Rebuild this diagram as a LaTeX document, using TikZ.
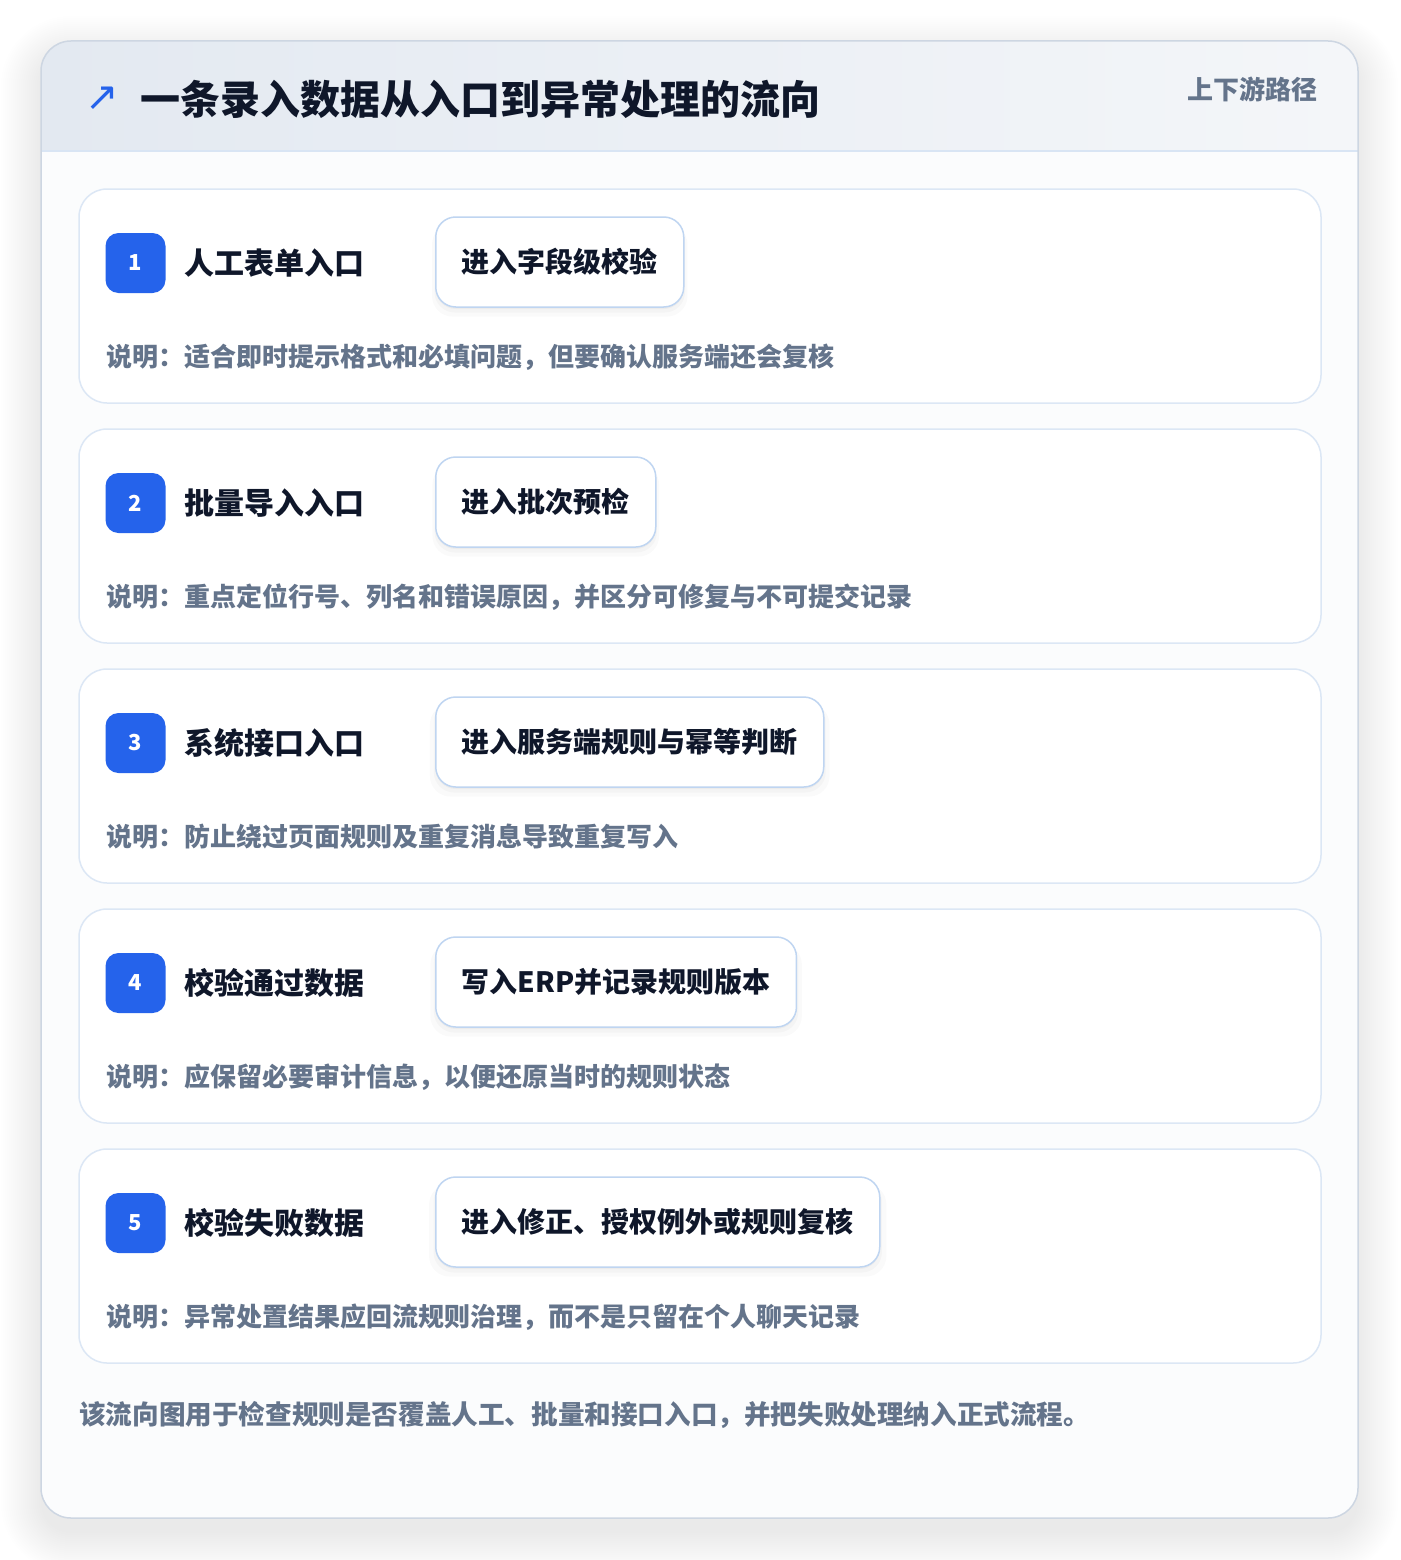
\documentclass[tikz,border=0pt]{standalone}
\usepackage{fontspec}
\setmainfont{Noto Sans CJK SC}
\newfontfamily\symfont{DejaVu Sans}
\usepackage{tikz}
\usetikzlibrary{positioning, shadows}
\definecolor{brandblue}{HTML}{2563EB}
\definecolor{inkdark}{HTML}{0F172A}
\definecolor{inkgrey}{HTML}{64748B}
\definecolor{panelline}{HTML}{CDD6E2}
\definecolor{headline}{HTML}{D9E5F4}
\definecolor{cardline}{HTML}{DCE7F5}
\definecolor{boxline}{HTML}{BFD5F1}
\definecolor{headleft}{HTML}{E3E9F1}
\definecolor{headright}{HTML}{F4F6F9}
\definecolor{panelfill}{HTML}{FBFCFD}

\tikzset{
    card/.style={draw=cardline, line width=1.5pt, fill=white, rounded corners=28pt},
    badge/.style={fill=brandblue, rounded corners=13pt, minimum size=60pt, inner sep=0pt,
        text=white, font=\fontsize{22}{26}\selectfont\bfseries},
    entry/.style={anchor=west, inner sep=0pt, text=inkdark, font=\fontsize{30}{36}\selectfont\bfseries},
    stepbox/.style={anchor=west, draw=boxline, line width=1.5pt, fill=white, rounded corners=20pt,
        minimum height=90pt, inner xsep=26pt, inner ysep=0pt, text=inkdark,
        font=\fontsize{28}{34}\selectfont\bfseries,
        drop shadow={shadow xshift=0pt, shadow yshift=-8pt, shadow scale=1.03, opacity=0.02, fill=black},
        drop shadow={shadow xshift=0pt, shadow yshift=-5pt, shadow scale=1.01, opacity=0.025, fill=black},
        drop shadow={shadow xshift=0pt, shadow yshift=-2pt, opacity=0.03, fill=black}},
    note/.style={anchor=west, inner sep=0pt, text=inkgrey, font=\fontsize{26}{32}\selectfont\bfseries}
}

\begin{document}
\begin{tikzpicture}[x=1pt, y=-1pt]
    \useasboundingbox (0,0) rectangle (1400,1560);
    \fill[white] (0,0) rectangle (1400,1560);

    % Panel shadow
    \foreach \k in {0,2,...,40} {
        \fill[black, opacity=0.005, rounded corners=30+\k] (41-\k,56-\k) rectangle (1358+\k,1533+\k);
    }

    % Panel
    \fill[panelfill, rounded corners=30pt] (41,41) rectangle (1358,1518);
    \begin{scope}
        \clip[rounded corners=30pt] (41,41) rectangle (1358,1518);
        \shade[left color=headleft, right color=headright] (41,41) rectangle (1358,151);
    \end{scope}
    \draw[headline, line width=1.5pt] (41,151) -- (1358,151);
    \draw[panelline, line width=1.5pt, rounded corners=30pt] (41,41) rectangle (1358,1518);

    % Header
    \node[inner sep=0pt, text=brandblue, font=\fontsize{40}{48}\selectfont\symfont] (icon) at (102,99) {↗};
    \node[anchor=west, inner sep=0pt, text=inkdark, font=\fontsize{40}{48}\selectfont\bfseries] (title) at (140,99)
        {一条录入数据从入口到异常处理的流向};
    \node[anchor=east, inner sep=0pt, text=inkgrey, font=\fontsize{26}{32}\selectfont\bfseries] (tag) at (1318,89)
        {上下游路径};

    % Cards
    \foreach \n/\entry/\step/\note in {
        1/{人工表单入口}/{进入字段级校验}/{说明：适合即时提示格式和必填问题，但要确认服务端还会复核},
        2/{批量导入入口}/{进入批次预检}/{说明：重点定位行号、列名和错误原因，并区分可修复与不可提交记录},
        3/{系统接口入口}/{进入服务端规则与幂等判断}/{说明：防止绕过页面规则及重复消息导致重复写入},
        4/{校验通过数据}/{写入ERP并记录规则版本}/{说明：应保留必要审计信息，以便还原当时的规则状态},
        5/{校验失败数据}/{进入修正、授权例外或规则复核}/{说明：异常处置结果应回流规则治理，而不是只留在个人聊天记录}} {
        \pgfmathsetmacro\cy{189+(\n-1)*240}
        \draw[card] (79,\cy) rectangle (1321,\cy+214);
        \node[badge] (badge\n) at (135.5,\cy+74) {\n};
        \node[entry, right=18.5pt of badge\n] (entry\n) {\entry};
        \node[stepbox] (step\n) at (435,\cy+73) {\step};
        \node[note] (note\n) at (106,\cy+168) {\note};
    }

    % Summary
    \node[note, font=\fontsize{26.6}{32}\selectfont\bfseries] (summary) at (79,1415)
        {该流向图用于检查规则是否覆盖人工、批量和接口入口，并把失败处理纳入正式流程。};
\end{tikzpicture}
\end{document}
